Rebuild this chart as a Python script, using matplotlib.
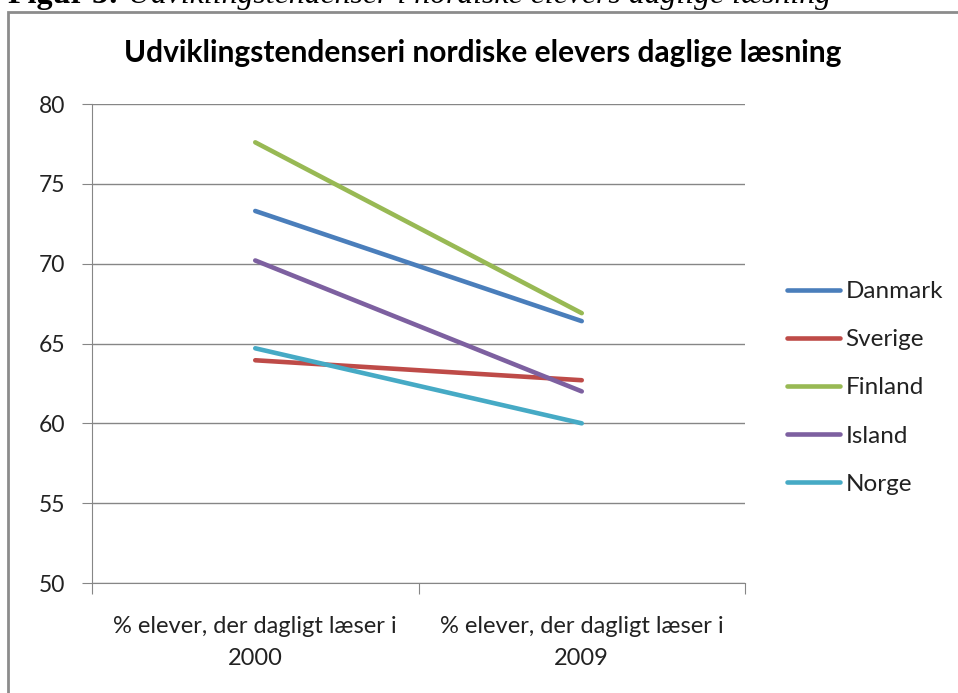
import matplotlib.pyplot as plt
from matplotlib.patches import Rectangle

# data
categories = ["% elever, der dagligt læser i\n2000", "% elever, der dagligt læser i\n2009"]
countries = ["Danmark", "Sverige", "Finland", "Island", "Norge"]
danmark = [73.3, 66.4]
sverige = [63.95, 62.7]
finland = [77.6, 66.9]
island = [70.2, 62.0]
norge = [64.7, 60.0]
series = [danmark, sverige, finland, island, norge]
colors = ["#4A7EBB", "#BE4B48", "#98B954", "#7D60A0", "#46AAC5"]

plt.rcParams['font.family'] = ['Lato', 'DejaVu Sans']

fig = plt.figure(figsize=(9.58, 6.93), dpi=100)

# chart frame (clipped on right and bottom like the screenshot)
fig.patches.append(Rectangle((8 / 958, -0.1), 1.2, 1 - 12 / 693 + 0.1,
                             transform=fig.transFigure, fill=False,
                             edgecolor="#8c8c8c", linewidth=2))

# caption above the chart, cut off at the top as in the screenshot
fig.text(8 / 958, 1 - 3 / 693, "Figur 3:", family="Liberation Serif", weight="bold",
         fontsize=23, va="baseline", ha="left")
fig.text(128 / 958, 1 - 3 / 693, "Udviklingstendenser i nordiske elevers daglige læsning",
         family="Liberation Serif", style="italic", fontsize=22.9, va="baseline", ha="left")

ax = fig.add_axes([92 / 958, 1 - 583 / 693, (745 - 92) / 958, (583 - 104) / 693])

x = [0.5, 1.5]
for name, vals, c in zip(countries, series, colors):
    ax.plot(x, vals, color=c, linewidth=3.3, solid_capstyle="round", label=name)

ax.set_xlim(0, 2)
ax.set_ylim(50, 80)
ax.set_yticks(range(50, 81, 5))
ax.set_xticks([0, 1, 2])
ax.set_xticklabels([])
ax.set_xticks(x, minor=True)
ax.set_xticklabels(categories, minor=True, fontsize=17, color="#222222", linespacing=1.65)
ax.tick_params(axis="x", which="minor", length=0, pad=24)
ax.tick_params(axis="x", which="major", length=8, color="#868686", direction="out")
ax.tick_params(axis="y", length=7, color="#868686", labelsize=16.5, labelcolor="#222222", pad=12)

ax.grid(axis="y", color="#868686", linewidth=1)
ax.set_axisbelow(True)
for s in ["top", "right"]:
    ax.spines[s].set_visible(False)
ax.spines["left"].set_color("#868686")
ax.spines["bottom"].set_color("#868686")

ax.set_title("Udviklingstendenseri nordiske elevers daglige læsning",
             fontsize=21.5, weight="bold", pad=30, x=(483 - 92) / (745 - 92))

fig.legend(loc="upper left", bbox_to_anchor=(787 / 958, 1 - 281 / 693), frameon=False,
           fontsize=17.5, handlelength=2.2, handletextpad=0.2, labelspacing=1.12,
           borderpad=0, borderaxespad=0, labelcolor="#222222")

fig.savefig("out.png", dpi=100)
